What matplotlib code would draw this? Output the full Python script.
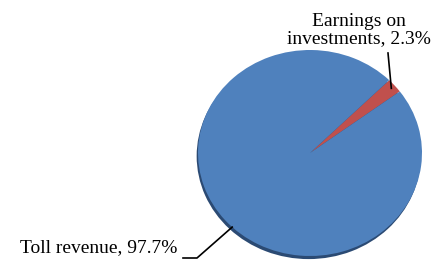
import numpy as np
import matplotlib.pyplot as plt

# data
categories = ["Earnings on\ninvestments", "Toll revenue"]
shares = [2.3, 97.7]
colors = ["#c0504d", "#4f81bd"]

W, H = 437, 267
CX, CY = 310, 114          # pie centre in pixels (from bottom-left)
RX, RY = 112, 103          # pie radii in pixels


def px(x, y):
    # pixel position -> data units of the full-figure axes
    return (x - CX) / RX, (y - CY) / RY


def main():
    plt.rcParams['font.family'] = ['Liberation Serif', 'DejaVu Serif']
    fig = plt.figure(figsize=(W / 100, H / 100), dpi=100)
    ax = fig.add_axes([0, 0, 1, 1])

    # shadow under the pie
    ax.pie([1], colors=["#2b4a73"], radius=1.0, center=(-0.012, -0.03),
           frame=True, wedgeprops=dict(linewidth=0))

    # the pie
    start = 45
    wedges, _ = ax.pie(shares, colors=colors, startangle=start, counterclock=False,
                       radius=1.0, frame=True, wedgeprops=dict(linewidth=0))

    ax.set_aspect('auto')
    ax.set_xlim((0 - CX) / RX, (W - CX) / RX)
    ax.set_ylim((0 - CY) / RY, (H - CY) / RY)
    ax.axis('off')

    # labels
    labels = ["%s, %.1f%%" % (c, v) for c, v in zip(categories, shares)]

    # earnings on investments: vertical leader up from the wedge
    mid = np.deg2rad(start - shares[0] * 3.6 / 2)
    ex, ey = 0.96 * np.cos(mid), 0.96 * np.sin(mid)
    tx, ty = px(388, 267 - 53)
    ax.plot([ex, tx], [ey, ty], color="black", lw=1.2)
    lx, ly = px(359, 267 - 30)
    ax.text(lx, ly, labels[0], ha="center", va="center", fontsize=14,
            linespacing=1.0)

    # toll revenue: elbow leader to the lower left
    ang = np.deg2rad(226)
    bx, by = 1.0 * np.cos(ang), 1.0 * np.sin(ang)
    kx, ky = px(197, 267 - 258)
    hx, hy = px(183, 267 - 258)
    ax.plot([bx, kx, hx], [by, ky, hy], color="black", lw=1.2)
    lx, ly = px(177, 267 - 248)
    ax.text(lx, ly, labels[1], ha="right", va="center", fontsize=14)

    fig.savefig("out.png", dpi=100)


if __name__ == "__main__":
    main()
